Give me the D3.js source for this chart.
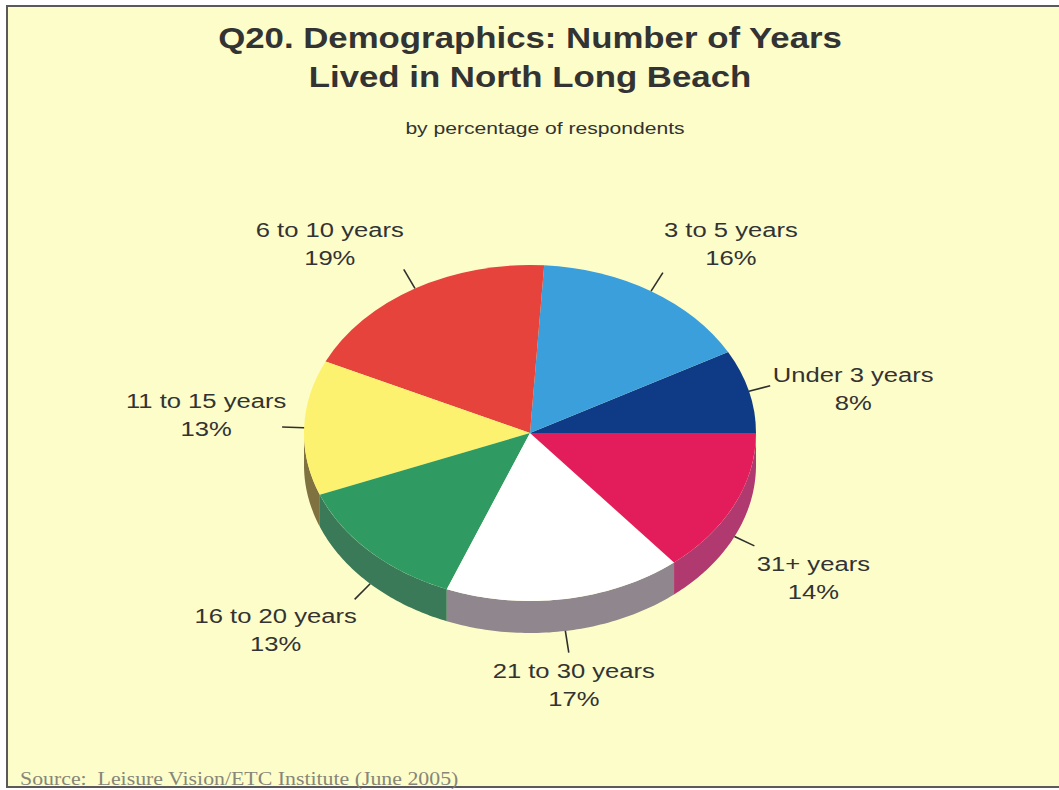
<!DOCTYPE html>
<html>
<head>
<meta charset="utf-8">
<script src="https://cdn.jsdelivr.net/npm/d3@7/dist/d3.min.js"></script>
<style>
  html, body { margin: 0; padding: 0; background: #ffffff; }
  svg { display: block; }
  text { font-family: "Liberation Sans", Arial, Helvetica, sans-serif; }
</style>
</head>
<body>
<svg id="chart" width="1059" height="790"></svg>
<script>
// Survey results: years lived in North Long Beach
const categories = ["Under 3 years", "3 to 5 years", "6 to 10 years", "11 to 15 years",
                    "16 to 20 years", "21 to 30 years", "31+ years"];
const percents = [8, 16, 19, 13, 13, 17, 14];

// palette for the slice tops and their walls
const topColors  = ["#0f3b86", "#3b9fdc", "#e5433b", "#fdf26f", "#2f9a61", "#ffffff", "#e31c5b"];
const sideColors = ["#0a2a60", "#2a74a2", "#a8302a", "#7f7240", "#3a7a59", "#8f868e", "#b0396f"];

// label placement relative to the outer end of each leader line
const labelOffsets = [[83, -4], [68, -36], [-74, -32], [-76, -19], [-79, 24], [5, 25], [59, 25]];

const W = 1059, H = 790;
const cx = 530, cy = 433, rx = 226, ry = 168, depth = 32, lead = 22;
const stretch = 1.22;

const svg = d3.select("#chart");

// page background and frame
svg.append("rect").attr("x", 0).attr("y", 0).attr("width", W).attr("height", H).attr("fill", "#ffffff");
svg.append("rect").attr("x", 7).attr("y", 6).attr("width", W + 20).attr("height", 781)
  .attr("fill", "#fdfdc9").attr("stroke", "#5a5a5a").attr("stroke-width", 2);

// titles
function stretchedText(x, y, str, size, weight, color, sx) {
  return svg.append("text")
    .attr("transform", `translate(${x},${y}) scale(${sx},1)`)
    .attr("text-anchor", "middle")
    .attr("font-size", size)
    .attr("font-weight", weight)
    .attr("fill", color)
    .text(str);
}
stretchedText(530, 48, "Q20. Demographics: Number of Years", 29, "bold", "#333333", 1.2);
stretchedText(530, 87, "Lived in North Long Beach", 29, "bold", "#333333", 1.2);
stretchedText(545, 134, "by percentage of respondents", 16.5, "normal", "#333333", 1.28);

// pie layout: counter-clockwise starting at 3 o'clock
const pie = d3.pie().sort(null).value(d => d)
  .startAngle(Math.PI / 2).endAngle(Math.PI / 2 - 2 * Math.PI);
const arcs = pie(percents);

const pt = (a, ex, ey, dy) => [cx + ex * Math.sin(a), cy - ey * Math.cos(a) + (dy || 0)];

// the visible front band of the cylinder lies between -3π/2 and -π/2
const frontLo = -1.5 * Math.PI, frontHi = -0.5 * Math.PI;
const g = svg.append("g");

arcs.forEach((d, i) => {
  const a0 = Math.min(d.startAngle, d.endAngle), a1 = Math.max(d.startAngle, d.endAngle);
  const s = Math.max(a0, frontLo), e = Math.min(a1, frontHi);
  if (e <= s) return;
  const path = d3.path();
  const p0 = pt(s, rx, ry);
  path.moveTo(p0[0], p0[1]);
  // trace along the rim, then down and back along the lower rim
  const steps = 60;
  for (let k = 1; k <= steps; k++) {
    const p = pt(s + (e - s) * k / steps, rx, ry);
    path.lineTo(p[0], p[1]);
  }
  for (let k = steps; k >= 0; k--) {
    const p = pt(s + (e - s) * k / steps, rx, ry, depth);
    path.lineTo(p[0], p[1]);
  }
  path.closePath();
  g.append("path").attr("d", path.toString()).attr("fill", sideColors[i]);
});

// top faces: circular arcs squashed into the ellipse
const arcGen = d3.arc().innerRadius(0).outerRadius(rx);
g.append("g")
  .attr("transform", `translate(${cx},${cy}) scale(1,${ry / rx})`)
  .selectAll("path")
  .data(arcs)
  .join("path")
  .attr("d", arcGen)
  .attr("fill", (d, i) => topColors[i]);

// leader lines and labels
arcs.forEach((d, i) => {
  const mid = (d.startAngle + d.endAngle) / 2;
  const front = Math.cos(mid) < 0;
  const dy = front ? depth : 0;
  const p0 = pt(mid, rx, ry, dy);
  const p1 = pt(mid, rx + lead, ry + lead, dy);
  svg.append("line")
    .attr("x1", p0[0]).attr("y1", p0[1]).attr("x2", p1[0]).attr("y2", p1[1])
    .attr("stroke", "#2f2f2f").attr("stroke-width", 1.6);
  const lx = p1[0] + labelOffsets[i][0], ly = p1[1] + labelOffsets[i][1];
  stretchedText(lx, ly, categories[i], 21, "normal", "#333333", stretch);
  stretchedText(lx, ly + 28, d3.format("d")(d.data) + "%", 21, "normal", "#333333", stretch);
});

// source note
svg.append("text")
  .attr("transform", "translate(20,785) scale(1.12,1)")
  .attr("font-size", 19.5)
  .attr("fill", "#86867a")
  .attr("xml:space", "preserve")
  .style("white-space", "pre")
  .style("font-family", "'Liberation Serif', 'Times New Roman', serif")
  .text("Source:  Leisure Vision/ETC Institute (June 2005)");
</script>
</body>
</html>
